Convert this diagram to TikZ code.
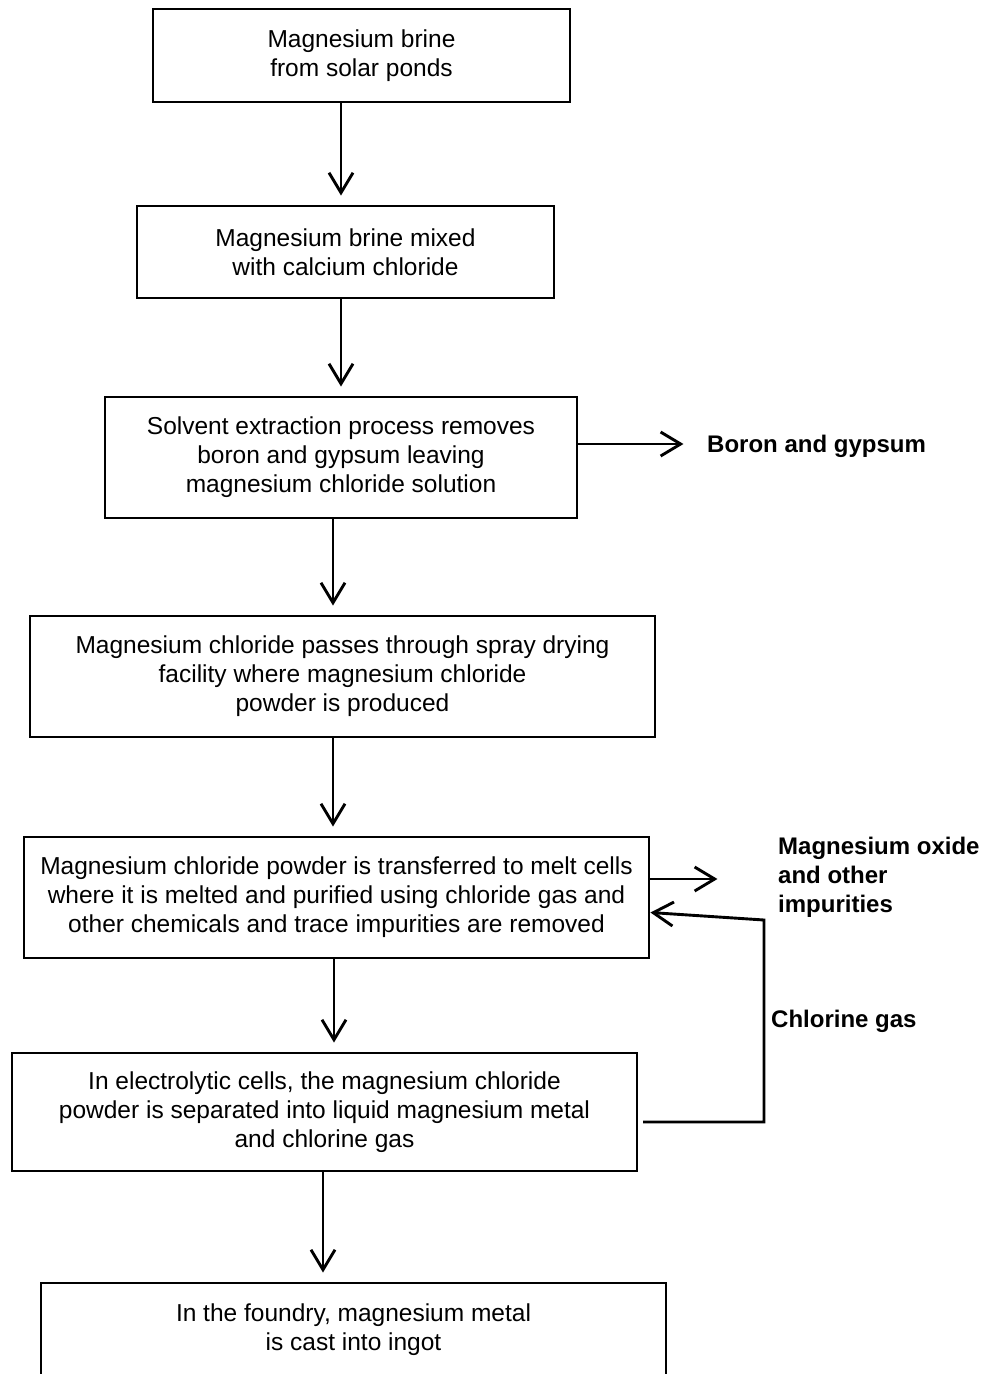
\documentclass[tikz,border=0pt]{standalone}
\usepackage{fontspec}
\setmainfont{Liberation Sans}
\usetikzlibrary{arrows.meta}
\begin{document}
\begin{tikzpicture}[x=1pt,y=-1pt,
  box/.style={draw, line width=2.9pt, rectangle, inner sep=0pt, align=center,
    font=\fontsize{24.5}{29}\selectfont},
  arr/.style={line width=2.9pt, -{Straight Barb[length=20pt,width=24pt,line width=2.9pt]}},
  down/.style={arr, shorten >=9pt},
  lbl/.style={font=\fontsize{24}{29}\selectfont\bfseries, align=left, inner sep=0pt}]
\useasboundingbox (0,0) rectangle (994,1374);
\clip (0,0) rectangle (994,1374);

% process steps
\node[box, minimum width=417pt, minimum height=93pt] (b1) at (361.5,55.5)
  {Magnesium brine\\from solar ponds};
\node[box, minimum width=417pt, minimum height=92pt] (b2) at (345.5,252)
  {Magnesium brine mixed\\with calcium chloride};
\node[box, minimum width=472pt, minimum height=121pt] (b3) at (341,457.5)
  {Solvent extraction process removes\\boron and gypsum leaving\\magnesium chloride solution};
\node[box, minimum width=625pt, minimum height=121pt] (b4) at (342.5,676.5)
  {Magnesium chloride passes through spray drying\\facility where magnesium chloride\\powder is produced};
\node[box, minimum width=625pt, minimum height=121pt] (b5) at (336.5,897.5)
  {Magnesium chloride powder is transferred to melt cells\\where it is melted and purified using chloride gas and\\other chemicals and trace impurities are removed};
\node[box, minimum width=625pt, minimum height=118pt] (b6) at (324.5,1112)
  {In electrolytic cells, the magnesium chloride\\powder is separated into liquid magnesium metal\\and chlorine gas};
\node[box, minimum width=625pt, minimum height=94pt] (b7) at (353.5,1330)
  {In the foundry, magnesium metal\\is cast into ingot};

% side labels
\node[lbl, anchor=west] (boron) at (707,446) {Boron and gypsum};
\node[lbl, anchor=west] (mgo) at (778,877) {Magnesium oxide\\and other\\impurities};
\node[lbl, anchor=west] (cl) at (771,1021) {Chlorine gas};

% columns of the downward arrows
\coordinate (c1) at (341,0);
\coordinate (c2) at (333,0);
\coordinate (c3) at (334,0);
\coordinate (c4) at (323,0);

\draw[down] (b1.south -| c1) -- (b2.north -| c1);
\draw[down] (b2.south -| c1) -- (b3.north -| c1);
\draw[down] (b3.south -| c2) -- (b4.north -| c2);
\draw[down] (b4.south -| c2) -- (b5.north -| c2);
\draw[down] (b5.south -| c3) -- (b6.north -| c3);
\draw[down] (b6.south -| c4) -- (b7.north -| c4);

% by-products leaving the process
\draw[arr] ([yshift=13.5pt]b3.east) -- ++(105,0);
\draw[arr] ([yshift=18.5pt]b5.east) -- ++(67,0);

% chlorine recycled to the melt cells
\coordinate (fb1) at (643,1122);
\coordinate (fb2) at (764,1122);
\coordinate (fb3) at (764,920);
\draw[arr, line join=miter] (fb1) -- (fb2) -- (fb3) -- ([yshift=-15pt]b5.east);
\end{tikzpicture}
\end{document}
